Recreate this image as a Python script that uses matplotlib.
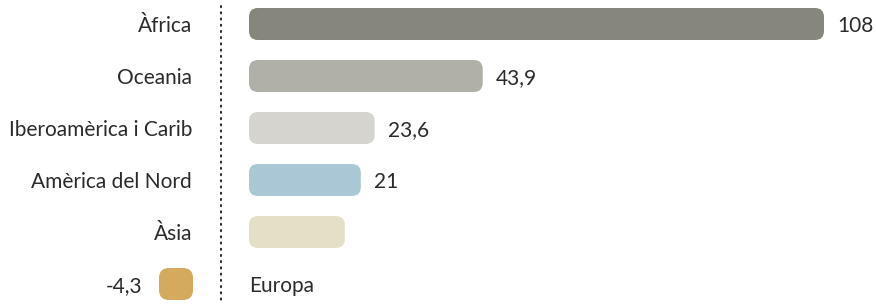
import matplotlib
matplotlib.use('Agg')
import matplotlib.pyplot as plt
from matplotlib.patches import FancyBboxPatch

plt.rcParams['font.family'] = ['Lato', 'DejaVu Sans']

regions = ['Àfrica', 'Oceania', 'Iberoamèrica i Carib', 'Amèrica del Nord', 'Àsia', 'Europa']
values = [108, 43.9, 23.6, 21, 18, -4.3]
value_labels = ['108', '43,9', '23,6', '21', '', '-4,3']
colors = ['#86867c', '#b0afa8', '#d5d4ce', '#a9c7d4', '#e4e0c7', '#d4ab5e']

W, H, DPI = 876, 304, 100
px = 575 / 108.0          # pixels per unit
x0 = 249                  # pixel of zero
row_h = 52.0
bar_h = 32 / row_h

fig = plt.figure(figsize=(W / DPI, H / DPI), dpi=DPI)
ax = fig.add_axes([0, 0, 1, 1])
ax.set_xlim(-x0 / px, (W - x0) / px)
ax.set_ylim((H - 24) / row_h, -24 / row_h)
ax.axis('off')

aspect = (1 / row_h) / (1 / px)
label_x = (192 - x0) / px       # right edge of category labels
neg_right = (193 - x0) / px     # right edge of negative bars
min_w = 34 / px
gap = 13 / px
dy = 2.5 / row_h                # nudge text down a little
txt = '#2b2b2b'
fs = 15

for i, (name, v, lab, c) in enumerate(zip(regions, values, value_labels, colors)):
    if v >= 0:
        left, w = 0, v
        ax.text(label_x, i + dy, name, ha='right', va='center', fontsize=fs, color=txt)
        if lab:
            ax.text(v + gap, i + dy, lab, ha='left', va='center', fontsize=fs, color=txt)
    else:
        w = max(abs(v), min_w)
        left = neg_right - w
        ax.text(0, i + dy, name, ha='left', va='center', fontsize=fs, color=txt)
        ax.text(left - 17 / px, i + dy, lab, ha='right', va='center', fontsize=fs, color=txt)
    r = 9 / px if v >= 0 else 10 / px
    ax.add_patch(FancyBboxPatch((left, i - bar_h / 2), w, bar_h,
                                boxstyle='round,pad=0,rounding_size=%f' % r,
                                mutation_aspect=aspect, fc=c, ec='none'))

ax.plot([(221 - x0) / px] * 2, [6 / row_h - 24 / row_h, (H - 24) / row_h],
        color='#222222', lw=1.4, linestyle=(0, (0.6, 2.6)), dash_capstyle='round')

fig.savefig('out.png', dpi=DPI)
